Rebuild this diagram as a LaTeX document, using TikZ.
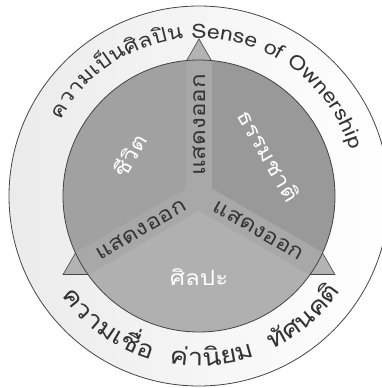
\documentclass[tikz,border=0pt]{standalone}
\usepackage{fontspec}
\newfontfamily\thaifont[Script=Thai, FakeStretch=1.15]{Loma}
\usetikzlibrary{decorations.text}

\definecolor{ringgray}{HTML}{EBEBEB}
\definecolor{trigray}{HTML}{B3B3B3}
\definecolor{bandgray}{HTML}{A8A8A8}
\definecolor{lifegray}{HTML}{A1A1A1}
\definecolor{naturegray}{HTML}{999999}
\definecolor{artgray}{HTML}{B0B0B0}
\definecolor{linegray}{HTML}{444444}
\definecolor{textgray}{HTML}{333333}

\newcommand\toparcfont{\color{textgray}\thaifont\fontsize{20}{20}\selectfont}
\newcommand\botarcfont{\color{textgray}\thaifont\fontsize{24}{24}\selectfont}
\newcommand\wordgap{{\hspace{9pt}}}

\tikzset{
  sectorlabel/.style={text=white, font=\thaifont\fontsize{21}{21}\selectfont},
  bandlabel/.style={text=textgray, font=\thaifont\fontsize{21}{21}\selectfont},
  arclabel/.style={decorate, decoration={text along path, text align=center, text={#1}}},
}

\begin{document}
\begin{tikzpicture}[x=1pt, y=1pt]
  \useasboundingbox (-199,-192) rectangle (183,196);
  % outer ring
  \shadedraw[left color=ringgray, right color=white, draw=linegray, line width=0.8pt] (0,0) circle (190);
  % triangle behind the disc
  \filldraw[fill=trigray, draw=linegray, line width=0.6pt] (90:157) -- (210:157) -- (330:157) -- cycle;
  % inner disc and its three parts
  \fill[bandgray] (0,0) circle (136);
  \begin{scope}
    \clip (0,0) circle (136);
    \fill[lifegray] (150:15) -- +(90:300) -- +(150:400) -- +(210:300) -- cycle;
    \fill[naturegray] (30:15) -- +(90:300) -- +(30:400) -- +(-30:300) -- cycle;
    \fill[artgray] (270:15) -- +(210:300) -- +(270:400) -- +(330:300) -- cycle;
  \end{scope}
  \draw[linegray, line width=0.8pt] (0,0) circle (136);

  \node[sectorlabel, rotate=60] (life) at (150:81) {ชีวิต};
  \node[sectorlabel, rotate=-60] (nature) at (30:81) {ธรรมชาติ};
  \node[sectorlabel] (art) at (270:81) {ศิลปะ};
  \node[bandlabel, rotate=90] (showtop) at (90:71) {แสดงออก};
  \node[bandlabel, rotate=30] (showleft) at (210:67) {แสดงออก};
  \node[bandlabel, rotate=-30] (showright) at (330:69) {แสดงออก};

  % texts along the ring
  \path[arclabel={|\toparcfont|ความเ{ป็}น{ศิ}ล{ปิ}น Sense of Ownership}]
    (184:158) arc[start angle=184, end angle=-16, radius=158];
  \path[arclabel={|\botarcfont|ความเ{ชื่}อ \wordgap{ค่}า{นิ}ยม \wordgap{ทั}ศนค{ติ}}]
    (171:170) arc[start angle=171, end angle=371, radius=170];
\end{tikzpicture}
\end{document}
